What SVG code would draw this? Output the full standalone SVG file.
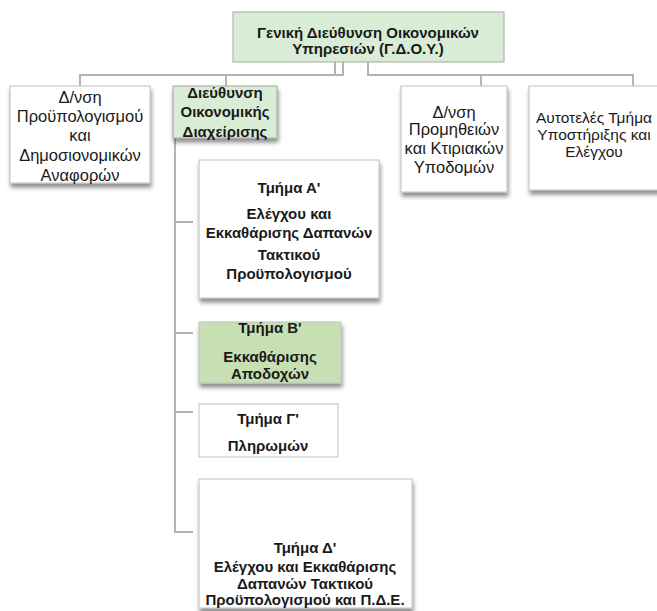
<svg xmlns="http://www.w3.org/2000/svg" width="657" height="611" viewBox="0 0 657 611">
<defs>
<filter id="sh" x="-10%" y="-10%" width="130%" height="140%">
<feDropShadow dx="1" dy="4" stdDeviation="2" flood-color="#000" flood-opacity="0.45"/>
</filter>
<style>
.box{fill:#ffffff;stroke:#bfbfbf;stroke-width:1}
.green{fill:#d8ecd6;stroke:#a6a6a6;stroke-width:1}
.green2{fill:#c6e0b4;stroke:#bfbfbf;stroke-width:1}
.conn{fill:none;stroke:#b4b4b8;stroke-width:2}
text{font-family:"Liberation Sans",Arial,sans-serif;fill:#1a1a1a;text-anchor:middle}
.r{font-size:16.5px}
.rs{font-size:15.5px}
.b{font-size:15px;font-weight:bold}
.bb{font-size:15px;font-weight:bold}
</style>
</defs>
<rect width="657" height="611" fill="#ffffff"/>
<g id="connectors">
<path class="conn" d="M335,62 V75 H80 V86"/>
<path class="conn" d="M343,62 V75 H226 V86"/>
<path class="conn" d="M368,62 V75 H633 V86"/>
<path class="conn" d="M481,75 V86"/>
<path class="conn" d="M175,138 V532 H193"/>
<path class="conn" d="M175,222 H193"/>
<path class="conn" d="M175,333 H193"/>
<path class="conn" d="M175,412 H193"/>
</g>
<g id="gdoy">
<rect class="green" x="233" y="12" width="271" height="50"/>
<text class="b" x="368" y="38">Γενική Διεύθυνση Οικονομικών</text>
<text class="b" x="368" y="54">Υπηρεσιών (Γ.Δ.Ο.Υ.)</text>
</g>
<g id="dnsi-proypologismou">
<rect class="box" x="10" y="86" width="140" height="97" filter="url(#sh)"/>
<text class="r" x="80" y="103">Δ/νση</text>
<text class="r" x="80" y="122">Προϋπολογισμού</text>
<text class="r" x="80" y="141">και</text>
<text class="r" x="80" y="161">Δημοσιονομικών</text>
<text class="r" x="80" y="181">Αναφορών</text>
</g>
<g id="dieythynsi-oikonomikis">
<rect class="green" x="173" y="86" width="104" height="52" filter="url(#sh)"/>
<text class="bb" x="225" y="98">Διεύθυνση</text>
<text class="bb" x="225" y="117">Οικονομικής</text>
<text class="bb" x="225" y="137">Διαχείρισης</text>
</g>
<g id="dnsi-promitheion">
<rect class="box" x="401" y="86" width="106" height="106" filter="url(#sh)"/>
<text class="r" x="454" y="118">Δ/νση</text>
<text class="r" x="454" y="135">Προμηθειών</text>
<text class="r" x="454" y="154">και Κτιριακών</text>
<text class="r" x="454" y="173">Υποδομών</text>
</g>
<g id="aytoteles">
<rect class="box" x="529" y="86" width="140" height="104" filter="url(#sh)"/>
<text class="rs" x="594" y="123">Αυτοτελές Τμήμα</text>
<text class="rs" x="594" y="140">Υποστήριξης και</text>
<text class="rs" x="594" y="157">Ελέγχου</text>
</g>
<g id="tmima-a">
<rect class="box" x="199" y="160" width="180" height="138" filter="url(#sh)"/>
<text class="b" x="289" y="193">Τμήμα Α'</text>
<text class="b" x="289" y="219">Ελέγχου και</text>
<text class="b" x="289" y="238">Εκκαθάρισης Δαπανών</text>
<text class="b" x="289" y="260">Τακτικού</text>
<text class="b" x="289" y="279">Προϋπολογισμού</text>
</g>
<g id="tmima-b">
<rect class="green2" x="199" y="322" width="142" height="61" filter="url(#sh)"/>
<text class="b" x="270" y="333">Τμήμα Β'</text>
<text class="b" x="270" y="362">Εκκαθάρισης</text>
<text class="b" x="270" y="379">Αποδοχών</text>
</g>
<g id="tmima-g">
<rect class="box" x="199" y="404" width="139" height="53"/>
<text class="b" x="268" y="424">Τμήμα Γ'</text>
<text class="b" x="268" y="451">Πληρωμών</text>
</g>
<g id="tmima-d">
<rect class="box" x="199" y="479" width="213" height="129" filter="url(#sh)"/>
<text class="b" x="305" y="553">Τμήμα Δ'</text>
<text class="b" x="305" y="572">Ελέγχου και Εκκαθάρισης</text>
<text class="b" x="305" y="589">Δαπανών Τακτικού</text>
<text class="b" x="305" y="605">Προϋπολογισμού και Π.Δ.Ε.</text>
</g>
</svg>
